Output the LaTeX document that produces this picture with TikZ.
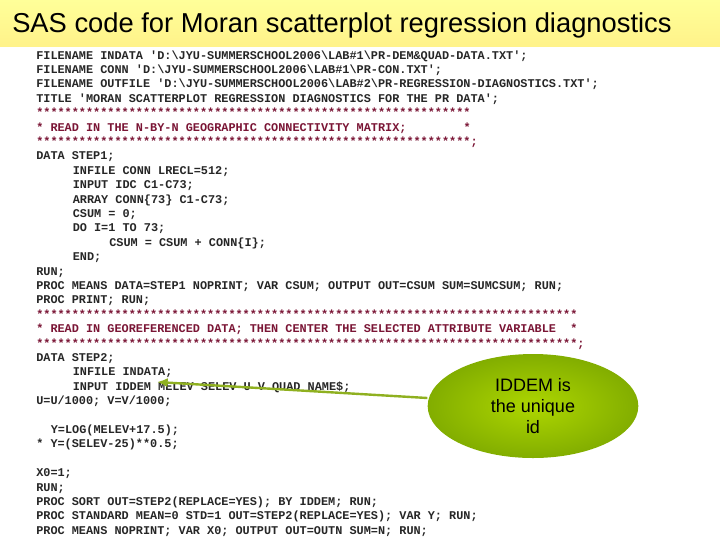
\documentclass[tikz,border=0pt]{standalone}
\usepackage{fontspec}
\setmainfont{Liberation Sans}
\newfontfamily\codefont{Liberation Mono}
\usetikzlibrary{shapes.geometric,arrows.meta}
\definecolor{barY}{HTML}{FFFF99}
\definecolor{cmt}{HTML}{7A1535}
\definecolor{balloon}{HTML}{99CC00}
\definecolor{arrowG}{HTML}{8FB020}
\newcommand{\bs}{\textbackslash}
\newcommand{\q}{\textquotesingle}
\begin{document}
\begin{tikzpicture}[x=0.75pt,y=-0.75pt,
  code/.style={anchor=base west,inner sep=0pt,font=\codefont\bfseries\fontsize{8.9}{10}\selectfont,text=black!85},
  cmline/.style={code,text=cmt}]
\useasboundingbox (0,0) rectangle (720,540);
\fill[top color=barY,bottom color=barY!90!orange] (0,0) rectangle (720,46);
\node[anchor=base west,inner sep=0pt,font=\fontsize{20.5}{24}\selectfont] (title) at (12,32) {SAS code for Moran scatterplot regression diagnostics};
\node[code] (l1) at (36,59) {FILENAME INDATA \q D:\bs JYU-SUMMERSCHOOL2006\bs LAB\#1\bs PR-DEM\&QUAD-DATA.TXT\q;};
\node[code] (l2) at (36,73.4) {FILENAME CONN \q D:\bs JYU-SUMMERSCHOOL2006\bs LAB\#1\bs PR-CON.TXT\q;};
\node[code] (l3) at (36,87.8) {FILENAME OUTFILE \q D:\bs JYU-SUMMERSCHOOL2006\bs LAB\#2\bs PR-REGRESSION-DIAGNOSTICS.TXT\q;};
\node[code] (l4) at (36,102.2) {TITLE \q MORAN SCATTERPLOT REGRESSION DIAGNOSTICS FOR THE PR DATA\q;};
\node[cmline] (l5) at (36,116.6) {*************************************************************};
\node[cmline] (l6) at (36,131) {* READ IN THE N-BY-N GEOGRAPHIC CONNECTIVITY MATRIX;\ \ \ \ \ \ \ \ *};
\node[cmline] (l7) at (36,145.4) {*************************************************************;};
\node[code] (l8) at (36,159.8) {DATA STEP1;};
\node[code] (l9) at (72.5,174.2) {INFILE CONN LRECL=512;};
\node[code] (l10) at (72.5,188.6) {INPUT IDC C1-C73;};
\node[code] (l11) at (72.5,203) {ARRAY CONN\{73\} C1-C73;};
\node[code] (l12) at (72.5,217.4) {CSUM = 0;};
\node[code] (l13) at (72.5,231.8) {DO I=1 TO 73;};
\node[code] (l14) at (109,246.2) {CSUM = CSUM + CONN\{I\};};
\node[code] (l15) at (72.5,260.6) {END;};
\node[code] (l16) at (36,275) {RUN;};
\node[code] (l17) at (36,289.4) {PROC MEANS DATA=STEP1 NOPRINT; VAR CSUM; OUTPUT OUT=CSUM SUM=SUMCSUM; RUN;};
\node[code] (l18) at (36,303.8) {PROC PRINT; RUN;};
\node[cmline] (l19) at (36,318.2) {****************************************************************************};
\node[cmline] (l20) at (36,332.6) {* READ IN GEOREFERENCED DATA; THEN CENTER THE SELECTED ATTRIBUTE VARIABLE\ \ *};
\node[cmline] (l21) at (36,347) {****************************************************************************;};
\node[code] (l22) at (36,361.4) {DATA STEP2;};
\node[code] (l23) at (72.5,375.8) {INFILE INDATA;};
\node[code] (l24) at (72.5,390.2) {INPUT IDDEM MELEV SELEV U V QUAD NAME\$;};
\node[code] (l25) at (36,404.6) {U=U/1000; V=V/1000;};
\node[code] (l26) at (50.6,433.4) {Y=LOG(MELEV+17.5);};
\node[code] (l27) at (36,447.8) {* Y=(SELEV-25)**0.5;};
\node[code] (l28) at (36,476.6) {X0=1;};
\node[code] (l29) at (36,491) {RUN;};
\node[code] (l30) at (36,505.4) {PROC SORT OUT=STEP2(REPLACE=YES); BY IDDEM; RUN;};
\node[code] (l31) at (36,519.8) {PROC STANDARD MEAN=0 STD=1 OUT=STEP2(REPLACE=YES); VAR Y; RUN;};
\node[code] (l32) at (36,534.2) {PROC MEANS NOPRINT; VAR X0; OUTPUT OUT=OUTN SUM=N; RUN;};
\node[ellipse,minimum width=158,minimum height=78,inner sep=0pt,
  inner color=balloon!80!yellow,outer color=balloon!85!black,
  align=center,font=\fontsize{13.5}{16}\selectfont] (note) at (533,406) {IDDEM is\\the unique\\id};
\coordinate (tip) at (157,382);
\draw[arrowG,line width=1.8,-{Latex[length=8,width=7]}] (note.west) ++(0,-8) -- (tip);
\end{tikzpicture}
\end{document}
